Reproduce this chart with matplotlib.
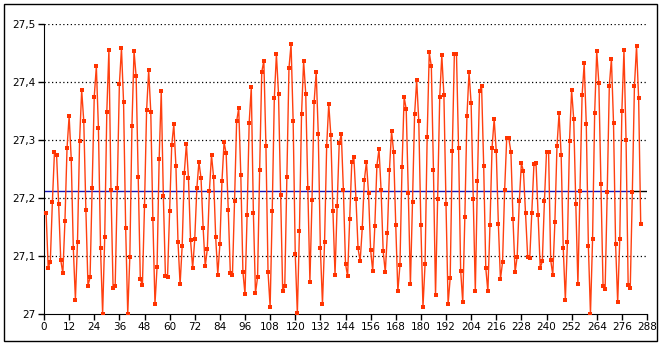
import numpy as np
import matplotlib.pyplot as plt
from matplotlib.ticker import FuncFormatter

# readings, one per step (steps 1..285)
level = [
    27.175, 27.080, 27.089, 27.193, 27.279, 27.275, 27.189, 27.093, 27.070, 27.160,
    27.286, 27.341, 27.268, 27.113, 27.025, 27.125, 27.299, 27.386, 27.332, 27.180,
    27.049, 27.063, 27.217, 27.375, 27.427, 27.320, 27.113, 27.000, 27.132, 27.349,
    27.456, 27.213, 27.044, 27.049, 27.218, 27.396, 27.458, 27.365, 27.149,
    27.000, 27.099, 27.324, 27.453, 27.410, 27.237, 27.060, 27.050, 27.186, 27.351,
    27.420, 27.348, 27.163, 27.017, 27.081, 27.268, 27.384, 27.203, 27.065,
    27.064, 27.177, 27.291, 27.327, 27.256, 27.124, 27.051, 27.118, 27.243,
    27.293, 27.234, 27.127, 27.079, 27.129, 27.217, 27.262, 27.234, 27.149, 27.082,
    27.112, 27.212, 27.274, 27.236, 27.132, 27.068, 27.120, 27.229, 27.296, 27.277,
    27.180, 27.070, 27.067, 27.194, 27.332, 27.355, 27.239, 27.073, 27.034, 27.170,
    27.330, 27.391, 27.175, 27.036, 27.063, 27.249, 27.417, 27.437, 27.289,
    27.072, 27.012, 27.177, 27.372, 27.448, 27.380, 27.205, 27.039, 27.049, 27.237,
    27.424, 27.465, 27.332, 27.103, 27.001, 27.143, 27.344, 27.436, 27.380, 27.218,
    27.056, 27.196, 27.365, 27.417, 27.310, 27.113, 27.017, 27.124, 27.289,
    27.362, 27.308, 27.177, 27.067, 27.186, 27.294, 27.310, 27.213, 27.087,
    27.065, 27.163, 27.262, 27.270, 27.199, 27.113, 27.091, 27.148, 27.231, 27.262,
    27.208, 27.110, 27.074, 27.151, 27.256, 27.284, 27.213, 27.108, 27.072, 27.139,
    27.249, 27.315, 27.279, 27.153, 27.039, 27.084, 27.253, 27.374, 27.353, 27.208,
    27.051, 27.193, 27.344, 27.403, 27.332, 27.153, 27.012, 27.086, 27.305,
    27.451, 27.427, 27.249, 27.032, 27.198, 27.374, 27.446, 27.377, 27.189,
    27.017, 27.062, 27.281, 27.449, 27.449, 27.286, 27.075, 27.020, 27.167, 27.341,
    27.417, 27.363, 27.199, 27.039, 27.229, 27.384, 27.393, 27.255, 27.079,
    27.039, 27.153, 27.287, 27.336, 27.281, 27.156, 27.060, 27.089, 27.213, 27.303,
    27.303, 27.279, 27.163, 27.072, 27.099, 27.194, 27.260, 27.246, 27.174, 27.099,
    27.096, 27.175, 27.258, 27.260, 27.170, 27.079, 27.091, 27.194, 27.279, 27.279,
    27.093, 27.067, 27.158, 27.289, 27.346, 27.274, 27.113, 27.024, 27.125,
    27.299, 27.386, 27.336, 27.189, 27.051, 27.212, 27.377, 27.432, 27.327,
    27.117, 27.000, 27.129, 27.346, 27.453,
    27.398, 27.224, 27.049, 27.043, 27.210, 27.393, 27.440, 27.330, 27.120, 27.020,
    27.130, 27.350, 27.455, 27.300, 27.050, 27.045, 27.210, 27.393, 27.462, 27.372,
    27.155,
]
mean_level = 27.212

x_ticks = list(range(0, 289, 12))
y_ticks = [27.0, 27.1, 27.2, 27.3, 27.4, 27.5]

step = np.arange(1, len(level) + 1)

fig = plt.figure(figsize=(6.62, 3.46), dpi=100)
ax = fig.add_axes([44/662, 32/346, 603/662, 290/346])

# outer frame of the chart
fig.patches.append(plt.Rectangle((4/662, 5/346), 653/662, 337/346, transform=fig.transFigure,
                                 fill=False, edgecolor="black", linewidth=1))

for yv in y_ticks[1:]:
    ax.axhline(yv, color="black", linestyle=(0, (1, 2)), linewidth=0.9, zorder=1)

# mean level: blue over the series, black tail past the last readings
ax.plot([0, 281], [mean_level, mean_level], color="#1414b4", linewidth=1.0, zorder=2)
ax.plot([281, 288], [mean_level, mean_level], color="black", linewidth=1.0, zorder=2)
ax.plot(step, level, color="#ff4010", linewidth=1, zorder=3,
        marker="s", markersize=2.6, markerfacecolor="#ff3300", markeredgewidth=0)

ax.set_xlim(0, 288)
ax.set_ylim(27, 27.5)
ax.set_xticks(x_ticks)
ax.set_yticks(y_ticks)
ax.yaxis.set_major_formatter(FuncFormatter(lambda v, p: ("%g" % round(v, 1)).replace(".", ",")))
ax.tick_params(labelsize=7.5, length=4, width=1, direction="out", pad=2)
ax.spines["top"].set_visible(False)
ax.spines["right"].set_visible(False)

fig.savefig("out.png", dpi=100)
